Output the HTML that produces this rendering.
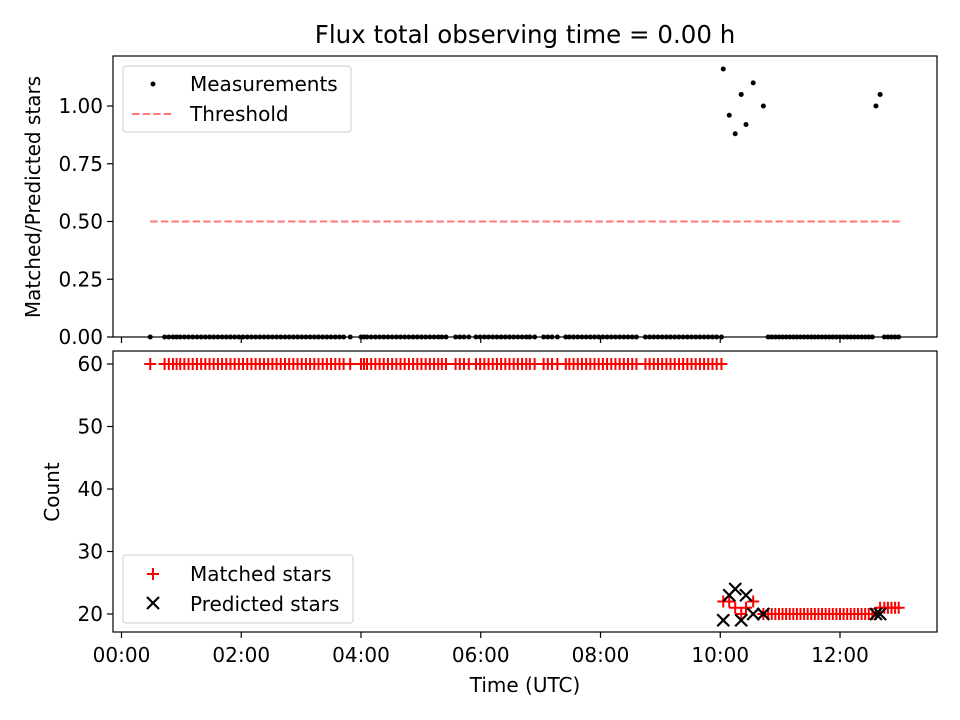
<!DOCTYPE html>
<html><head><meta charset="utf-8"><style>
html,body{margin:0;padding:0;background:#fff}
svg{display:block;font-family:"DejaVu Sans","Liberation Sans",sans-serif}
</style></head><body>
<svg id="c" width="960" height="720" xmlns="http://www.w3.org/2000/svg"></svg>
<script>
// ---- data (hours UTC) ----
const seg1Times = [0.48,0.72,0.79,0.86,0.92,0.98,1.05,1.12,1.19,1.26,1.33,1.40,1.47,1.54,1.61,1.68,1.75,1.82,1.89,1.96,2.03,2.10,2.17,2.24,2.31,2.38,2.45,2.52,2.59,2.66,2.73,2.80,2.87,2.94,3.01,3.08,3.15,3.22,3.29,3.36,3.43,3.50,3.57,3.64,3.71,3.82,4.00,4.05,4.10,4.17,4.24,4.31,4.38,4.45,4.52,4.59,4.66,4.73,4.80,4.87,4.94,5.01,5.08,5.15,5.22,5.29,5.35,5.42,5.58,5.65,5.72,5.80,5.92,5.99,6.06,6.13,6.20,6.27,6.34,6.41,6.48,6.55,6.62,6.69,6.76,6.82,6.90,7.05,7.12,7.19,7.28,7.42,7.48,7.55,7.62,7.69,7.76,7.83,7.90,7.97,8.04,8.11,8.18,8.25,8.32,8.39,8.46,8.53,8.60,8.75,8.82,8.89,8.96,9.03,9.10,9.17,9.24,9.31,9.38,9.45,9.52,9.59,9.66,9.73,9.80,9.87,9.94,10.02];
const seg2Times = [10.05,10.15,10.25,10.35,10.43,10.55,10.72,10.80,10.86,10.92,10.98,11.04,11.10,11.16,11.22,11.28,11.34,11.40,11.46,11.52,11.58,11.64,11.70,11.76,11.82,11.88,11.94,12.00,12.06,12.12,12.18,12.24,12.30,12.36,12.42,12.48,12.54,12.60,12.67,12.74,12.80,12.86,12.92,12.98];
const seg2Ratio = [1.16,0.96,0.88,1.05,0.92,1.10,1.00,0,0,0,0,0,0,0,0,0,0,0,0,0,0,0,0,0,0,0,0,0,0,0,0,0,0,0,0,0,0,1.00,1.05,0,0,0,0,0];
const seg2Matched = [22,22,21,20,21,22,20,20,20,20,20,20,20,20,20,20,20,20,20,20,20,20,20,20,20,20,20,20,20,20,20,20,20,20,20,20,20,20,21,21,21,21,21,21];
const seg2Predicted = [19,23,24,19,23,20,20,null,null,null,null,null,null,null,null,null,null,null,null,null,null,null,null,null,null,null,null,null,null,null,null,null,null,null,null,null,null,20,20,null,null,null,null,null];
const seg1Matched = 60;
const threshold = 0.5;
const thresholdRange = [0.48, 13.0];
const xTickHours = [0,2,4,6,8,10,12];
const xTickLabels = ["00:00","02:00","04:00","06:00","08:00","10:00","12:00"];
const topTicks = [0,0.25,0.5,0.75,1.0];
const botTicks = [20,30,40,50,60];

// ---- geometry ----
const L=113,R=937, T1=56,B1=337, T2=351,B2=632;
const FS='20';
const xs = h => 121.5 + h*59.875;
const y1 = v => 337 - v*231;
const y2 = v => 614 - (v-20)*6.25;
const svg=document.getElementById('c');
const NS='http://www.w3.org/2000/svg';
function el(tag,attrs,parent){const e=document.createElementNS(NS,tag);for(const k in attrs)e.setAttribute(k,attrs[k]);(parent||svg).appendChild(e);return e;}

let t=el('text',{x:525,y:43,'font-size':'24.5','text-anchor':'middle'});t.textContent='Flux total observing time = 0.00 h';



// ---------- top panel ----------
const g1=el('g',{});


let th=el('line',{x1:xs(thresholdRange[0]),x2:xs(thresholdRange[1]),y1:y1(threshold),y2:y1(threshold),stroke:'#f77','stroke-width':2,'stroke-dasharray':'7.4,3.2'},g1);


const pts1=el('g',{fill:'#000'},g1);


seg1Times.forEach(h=>{const c=el('circle',{cx:xs(h),cy:y1(0),r:2.5},pts1);

});
seg2Times.forEach((h,i)=>{const c=el('circle',{cx:xs(h),cy:y1(seg2Ratio[i]),r:2.5},pts1);

});
el('rect',{x:L,y:T1,width:R-L,height:B1-T1,fill:'none',stroke:'#000','stroke-width':1.2},g1);
topTicks.forEach(v=>{el('line',{x1:L-6,x2:L,y1:y1(v),y2:y1(v),stroke:'#000','stroke-width':1.2},g1);
const tx=el('text',{x:L-10,y:y1(v)+7,'font-size':FS,'text-anchor':'end'},g1);tx.textContent=v.toFixed(2);

});
xTickHours.forEach(h=>el('line',{x1:xs(h),x2:xs(h),y1:B1,y2:B1+6,stroke:'#000','stroke-width':1.2},g1));
let yl=el('text',{transform:'translate(40,197) rotate(-90)','font-size':FS,'text-anchor':'middle'},g1);yl.textContent='Matched/Predicted stars';


const lg1=el('g',{},g1);


el('rect',{x:123,y:66,width:228,height:66,rx:3,fill:'#fff','fill-opacity':0.8,stroke:'#ccc'},lg1);
el('circle',{cx:153,cy:84,r:2.5,fill:'#000'},lg1);
let lt=el('text',{x:190,y:91,'font-size':FS},lg1);lt.textContent='Measurements';
el('line',{x1:132,x2:173,y1:114,y2:114,stroke:'#f77','stroke-width':2,'stroke-dasharray':'7.4,3.2'},lg1);
lt=el('text',{x:190,y:121,'font-size':FS},lg1);lt.textContent='Threshold';

// ---------- bottom panel ----------
const g2=el('g',{});


function plus(x,y,p,name){const g=el('g',{stroke:'#f00','stroke-width':2},p);


el('line',{x1:x-6,x2:x+6,y1:y,y2:y},g);el('line',{x1:x,x2:x,y1:y-6,y2:y+6},g);}
function cross(x,y,p,name){const g=el('g',{stroke:'#000','stroke-width':2.2},p);


el('line',{x1:x-6,x2:x+6,y1:y-6,y2:y+6},g);el('line',{x1:x-6,x2:x+6,y1:y+6,y2:y-6},g);}
const mg=el('g',{},g2);


seg1Times.forEach(h=>plus(xs(h),y2(seg1Matched),mg,'matched-point'));
seg2Times.forEach((h,i)=>plus(xs(h),y2(seg2Matched[i]),mg,'matched-point'));
const pg=el('g',{},g2);


seg2Times.forEach((h,i)=>{if(seg2Predicted[i]!=null)cross(xs(h),y2(seg2Predicted[i]),pg,'predicted-point');});
el('rect',{x:L,y:T2,width:R-L,height:B2-T2,fill:'none',stroke:'#000','stroke-width':1.2},g2);
botTicks.forEach(v=>{el('line',{x1:L-6,x2:L,y1:y2(v),y2:y2(v),stroke:'#000','stroke-width':1.2},g2);
const tx=el('text',{x:L-10,y:y2(v)+7,'font-size':FS,'text-anchor':'end'},g2);tx.textContent=v;

});
xTickHours.forEach((h,i)=>{el('line',{x1:xs(h),x2:xs(h),y1:B2,y2:B2+6,stroke:'#000','stroke-width':1.2},g2);
const tx=el('text',{x:xs(h),y:662,'font-size':FS,'text-anchor':'middle'},g2);tx.textContent=xTickLabels[i];

});
let xl=el('text',{x:525,y:692,'font-size':FS,'text-anchor':'middle'},g2);xl.textContent='Time (UTC)';


yl=el('text',{transform:'translate(59,492) rotate(-90)','font-size':FS,'text-anchor':'middle'},g2);yl.textContent='Count';


const lg2=el('g',{},g2);


el('rect',{x:123,y:555,width:230,height:68,rx:3,fill:'#fff','fill-opacity':0.8,stroke:'#ccc'},lg2);
plus(153,574,lg2,'legend-matched-marker');
lt=el('text',{x:190,y:581,'font-size':FS},lg2);lt.textContent='Matched stars';
cross(153,603,lg2,'legend-predicted-marker');
lt=el('text',{x:190,y:611,'font-size':FS},lg2);lt.textContent='Predicted stars';
</script>
</body></html>
